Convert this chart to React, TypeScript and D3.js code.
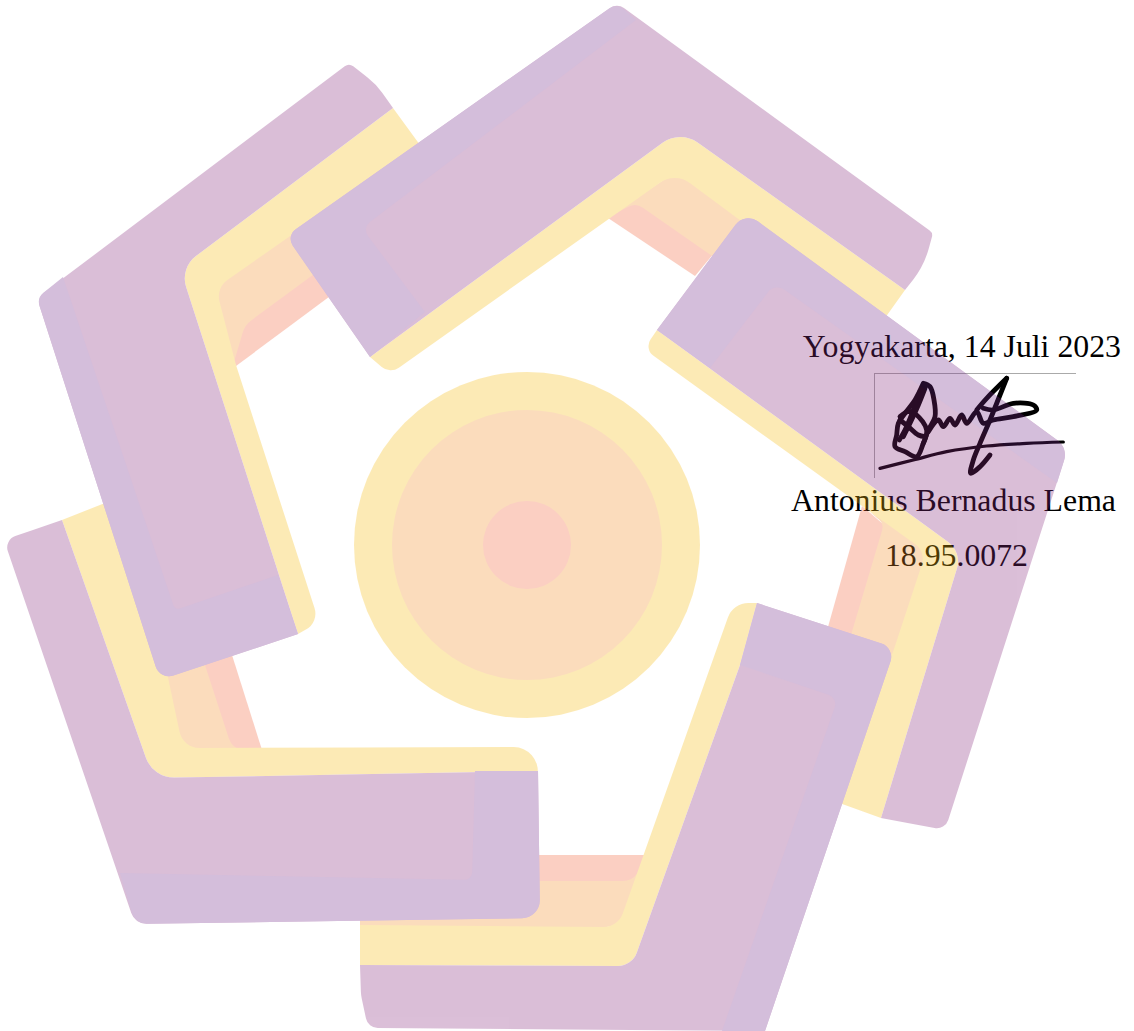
import React from "react";
import * as d3 from "d3";

type P = number[];
const width = 1134, height = 1031;

const pinkShapes: P[][] = [
  [[345,285],[236,366],[225,340],[300,270]],
  [[608,218],[695,276],[725,240],[640,190]],
  [[862,506],[828,627],[860,640],[890,530]],
  [[360,855],[650,855],[630,890],[360,890]],
  [[200,665],[232,655],[262,750],[215,750]],
];
const peachShapes: P[][] = [
  [[325,266],[245,325,22],[234,362],[205,290],[290,220]],
  [[610,216],[636,203,14],[725,265],[760,230],[675,172,24]],
  [[870,512],[884,524,10],[848,645],[900,670],[940,555]],
  [[360,881],[632,881,18],[650,855],[655,860],[618,927,20],[360,927]],
  [[150,680],[205,665],[232,748,18],[252,752],[170,752]],
];
const yellowShapes: P[][] = [
  [[393,108],[180,268,28],[298,634],[319,622,18],[236,365],[216,288,20],[420,145]],
  [[370,357],[680,130,30],[905,290],[885,318],[737,218],[675,172,26],[390,374,14]],
  [[657,330],[644,349,12],[926,552,18],[893,652],[830,800],[845,805],[881,818],[962,552,24]],
  [[757,603],[733,603,22],[618,927,20],[360,925],[360,965],[632,966,20],[740,665]],
  [[62,520],[105,503],[160,640],[183,748,20],[541,747,24],[538,771],[153,778,30]],
];
const mauveShapes: P[][] = [
  [[349,63,7],[376,84,70],[393,108],[180,268,28],[298,634],[160,680,14],[37,298,12]],
  [[617,3,12],[933,233,6],[924,266,90],[905,290],[680,130,30],[370,357],[286,236,12]],
  [[657,330],[745,212,16],[1068,448,18],[945,830,12],[881,818],[962,552,24]],
  [[757,603],[895,648,14],[765,1031],[368,1028,12],[361,995,40],[360,965],[632,966,20],[740,665]],
  [[4,540,12],[62,520],[153,778,30],[538,771],[540,918,18],[135,924,16]],
];
const lavenderShapes: P[][] = [
  [[37,298,12],[63,277],[175,610,5],[278,575],[298,634],[160,680,14]],
  [[286,236,12],[617,3,12],[636,20],[362,228,10],[425,312],[370,357]],
  [[657,330],[745,212,16],[1068,448,18],[1057,483],[775,283,12],[710,368]],
  [[757,603],[895,648,14],[765,1031],[722,1031],[838,698,10],[740,665]],
  [[120,873],[472,880,8],[475,771],[538,771],[540,918,18],[135,924,16]],
];
const circleRadii = [173, 135, 44];
const circleColors = ["#f8bc0f", "#f28e26", "#f2623a"];
const signatureStrokes: number[][][] = [
  [[430,190],[405,240],[375,280],[355,310],[350,345],[345,380],[375,395],[410,410],[430,370],[445,330],[465,290],[462,240],[450,200],[430,190]],
  [[360,290],[385,275],[410,285],[440,330],[430,370]],
  [[420,215],[400,270],[375,330],[358,360]],
  [[435,205],[415,255],[390,310],[370,350]],
  [[360,300],[385,320],[415,345],[435,350]],
  [[445,335],[475,300],[490,320],[510,295],[525,315],[545,285],[560,310],[590,275],[610,310],[640,300],[700,290],[770,270],[760,255],[700,250],[640,270],[610,265]],
  [[680,175],[660,225],[630,300],[600,370],[580,420],[572,460],[600,440],[630,405]],
  [[680,175],[620,235],[590,270]],
  [[300,445],[400,420],[500,395],[620,378],[740,370],[850,366]],
];
const textLines = ["Yogyakarta, 14 Juli 2023", "Antonius Bernadus Lema", "18.95.0072"];

const zoomX = d3.scaleLinear().domain([0, 3]).range([780, 781]);
const zoomY = d3.scaleLinear().domain([0, 3]).range([320, 321]);

function rounded(points: P[]): string {
  const n = points.length;
  const p = d3.path();
  const mid = (a: P, b: P) => [(a[0] + b[0]) / 2, (a[1] + b[1]) / 2];
  const s = mid(points[n - 1], points[0]);
  p.moveTo(s[0], s[1]);
  points.forEach((v, i) => {
    const nx = points[(i + 1) % n];
    const m = mid(v, nx);
    if (v[2]) p.arcTo(v[0], v[1], m[0], m[1], v[2]);
    else p.lineTo(v[0], v[1]);
    p.lineTo(m[0], m[1]);
  });
  p.closePath();
  return p.toString();
}

const sigLine = d3.line<number[]>().x(d => zoomX(d[0])).y(d => zoomY(d[1])).curve(d3.curveCatmullRom.alpha(0.5));

const layers: [P[][], string][] = [
  [pinkShapes, "#f2623a"],
  [peachShapes, "#f28e26"],
  [yellowShapes, "#f8bc0f"],
  [mauveShapes, "#872a7d"],
  [lavenderShapes, "#732a8a"],
];

export default function App() {
  const font = { fontFamily: "'Liberation Serif', serif", fontSize: 31.8, fill: "#000" };
  return (
    <svg width={width} height={height} style={{ position: "absolute", left: 0, top: 0, display: "block", background: "#fff" }}>
      <line x1={875} y1={373.5} x2={1076} y2={373.5} stroke="#aaa" strokeWidth={1} />
      <line x1={874.5} y1={373} x2={874.5} y2={478} stroke="#aaa" strokeWidth={1} />
      {signatureStrokes.map((s, i) => (
        <path key={i} d={sigLine(s) ?? ""} fill="none" stroke="#000" strokeWidth={i === signatureStrokes.length - 1 ? 3.2 : 4.8} strokeLinecap="round" strokeLinejoin="round" />
      ))}
      <text x={1121} y={357} textAnchor="end" {...font}>{textLines[0]}</text>
      <text x={1116} y={511} textAnchor="end" {...font}>{textLines[1]}</text>
      <text x={1028} y={566} textAnchor="end" {...font}>{textLines[2]}</text>
      <g opacity={0.3}>
        {layers.map(([shapes, color], i) => (
          <g key={i} fill={color}>
            {shapes.map((s, j) => <path key={j} d={rounded(s)} />)}
          </g>
        ))}
        {circleRadii.map((r, i) => <circle key={i} cx={527} cy={545} r={r} fill={circleColors[i]} />)}
      </g>
    </svg>
  );
}
